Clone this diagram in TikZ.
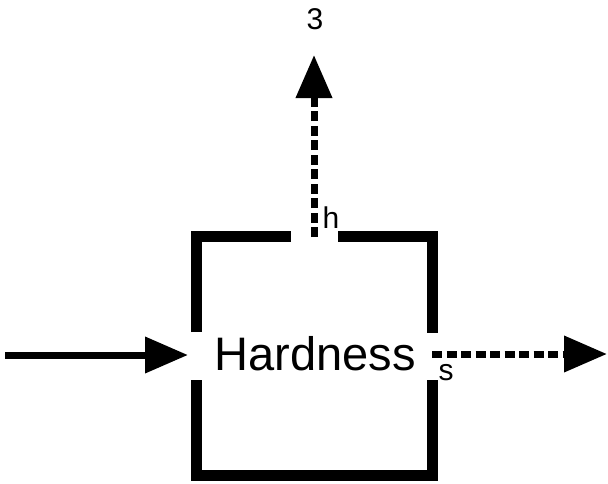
\documentclass[tikz,border=0pt]{standalone}
\usepackage{fontspec}
\setmainfont{Liberation Sans}
\usetikzlibrary{arrows.meta,positioning}

\begin{document}
\begin{tikzpicture}[x=1pt, y=-1pt,
        wall/.style={line width=11pt},
        flow/.style={line width=7pt, -{Triangle[length=43pt,width=35pt]}},
        dflow/.style={flow, dash pattern=on 10pt off 4.5pt},
        lbl/.style={inner sep=0pt, font=\fontsize{30}{30}\selectfont}]
        \useasboundingbox (0,0) rectangle (608,483);

        % box with openings
        \draw[wall] (196.5,332) -- (196.5,236) -- (291,236);
        \draw[wall] (338,236) -- (432.5,236) -- (432.5,333);
        \draw[wall] (196.5,380) -- (196.5,475.5) -- (432.5,475.5) -- (432.5,380);

        \node[inner sep=0pt, anchor=base, font=\fontsize{47}{47}\selectfont] (hard) at (315,370) {Hardness} ;
        \node[lbl, anchor=base] (h) at (331,228) {h} ;
        \node[lbl, anchor=base] (s) at (446,380) {s} ;
        \node[lbl, anchor=base] (three) at (315,29) {3} ;

        \coordinate (src) at (5,355) ;
        \coordinate (in) at (188,355) ;
        \coordinate (hout) at (314,237) ;
        \coordinate (top) at (314,55) ;
        \coordinate (sout) at (432,354) ;
        \coordinate (right) at (607,354) ;

        \draw[flow] (src) -- (in) ;
        \draw[dflow] (hout) -- (top) ;
        \draw[dflow] (sout) -- (right) ;
    \end{tikzpicture}
\end{document}
